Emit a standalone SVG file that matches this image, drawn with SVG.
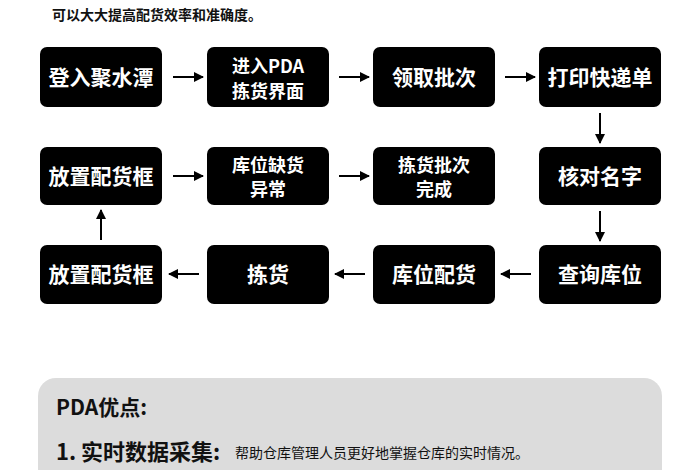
<svg xmlns="http://www.w3.org/2000/svg" width="700" height="470" viewBox="0 0 700 470">
<style>
.b{fill:#000}
.t{fill:#fff;font-family:"Noto Sans CJK SC",sans-serif;font-weight:bold;font-size:21px;text-anchor:middle}
.s{font-size:18px}
.c line{stroke:#000;stroke-width:2;marker-end:url(#a)}
.k{font-family:"Noto Sans CJK SC",sans-serif;fill:#111}
</style>
<defs><marker id="a" viewBox="0 0 10 10" refX="9" refY="5" markerWidth="5" markerHeight="5" orient="auto"><path d="M0,0L10,5L0,10z" fill="#000"/></marker></defs>
<rect width="700" height="470" fill="#fff"/>
<text class="k" x="52" y="20" font-size="14" font-weight="bold">可以大大提高配货效率和准确度。</text>
<g id="n1"><rect class="b" x="40" y="47" width="122" height="60" rx="7"/><text class="t" x="101" y="85">登入聚水潭</text></g>
<g id="n2"><rect class="b" x="207" y="47" width="122" height="60" rx="7"/><text class="t s" x="268" y="73">进入PDA</text><text class="t s" x="268" y="98">拣货界面</text></g>
<g id="n3"><rect class="b" x="373" y="47" width="122" height="60" rx="7"/><text class="t" x="434" y="85">领取批次</text></g>
<g id="n4"><rect class="b" x="539" y="47" width="122" height="60" rx="7"/><text class="t" x="600" y="85">打印快递单</text></g>
<g id="n5"><rect class="b" x="40" y="147" width="122" height="58" rx="7"/><text class="t" x="101" y="184">放置配货框</text></g>
<g id="n6"><rect class="b" x="207" y="147" width="122" height="58" rx="7"/><text class="t s" x="268" y="172">库位缺货</text><text class="t s" x="268" y="196">异常</text></g>
<g id="n7"><rect class="b" x="373" y="147" width="122" height="58" rx="7"/><text class="t s" x="434" y="172">拣货批次</text><text class="t s" x="434" y="196">完成</text></g>
<g id="n8"><rect class="b" x="539" y="147" width="122" height="58" rx="7"/><text class="t" x="600" y="184">核对名字</text></g>
<g id="n9"><rect class="b" x="40" y="245" width="122" height="59" rx="7"/><text class="t" x="101" y="282">放置配货框</text></g>
<g id="n10"><rect class="b" x="207" y="245" width="122" height="59" rx="7"/><text class="t" x="268" y="282">拣货</text></g>
<g id="n11"><rect class="b" x="373" y="245" width="122" height="59" rx="7"/><text class="t" x="434" y="282">库位配货</text></g>
<g id="n12"><rect class="b" x="539" y="245" width="122" height="59" rx="7"/><text class="t" x="600" y="282">查询库位</text></g>
<g class="c">
<line x1="173" y1="77" x2="203" y2="77"/><line x1="339" y1="77" x2="369" y2="77"/><line x1="505" y1="77" x2="535" y2="77"/>
<line x1="600" y1="113" x2="600" y2="143"/>
<line x1="173" y1="176" x2="203" y2="176"/><line x1="339" y1="176" x2="369" y2="176"/>
<line x1="600" y1="211" x2="600" y2="241"/>
<line x1="531" y1="274" x2="501" y2="274"/><line x1="365" y1="274" x2="335" y2="274"/><line x1="199" y1="274" x2="169" y2="274"/>
<line x1="101" y1="240" x2="101" y2="210"/>
</g>
<rect x="38" y="378" width="624" height="110" rx="18" fill="#dcdcdc"/>
<text class="k" x="56" y="415" font-size="21" font-weight="bold">PDA优点:</text>
<text class="k" x="56" y="460" font-size="22" font-weight="bold">1. 实时数据采集:</text>
<text class="k" x="235" y="458" font-size="14">帮助仓库管理人员更好地掌握仓库的实时情况。</text>
</svg>
